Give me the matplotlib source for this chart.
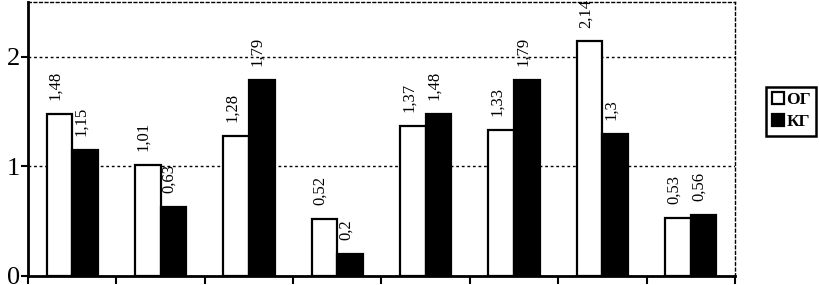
import matplotlib
matplotlib.use("Agg")
import matplotlib.pyplot as plt
import numpy as np

categories = ["1", "2", "3", "4", "5", "6", "7", "8"]
og_values = [1.48, 1.01, 1.28, 0.52, 1.37, 1.33, 2.14, 0.53]
kg_values = [1.15, 0.63, 1.79, 0.20, 1.48, 1.79, 1.30, 0.56]
series_names = ["ОГ", "КГ"]
y_ticks = [0, 1, 2]

plt.rcParams['font.family'] = ['Liberation Serif', 'DejaVu Serif']

fig = plt.figure(figsize=(8.2, 2.85), dpi=100)
ax = fig.add_axes([28/820, 1 - 276/285, (735 - 28)/820, (276 - 2)/285])

x = np.arange(len(categories))
w = 0.29
b1 = ax.bar(x - w/2, og_values, w, color="white", edgecolor="black", linewidth=1.6, label=series_names[0], zorder=3)
b2 = ax.bar(x + w/2, kg_values, w, color="black", edgecolor="black", linewidth=1.6, label=series_names[1], zorder=3)

def fmt(v):
    return f"{v:g}".replace(".", ",")

for bars, vals in ((b1, og_values), (b2, kg_values)):
    for r, v in zip(bars, vals):
        ax.annotate(fmt(v), (r.get_x() + r.get_width()/2, r.get_height()),
                    xytext=(-3, 10), textcoords="offset points",
                    rotation=90, ha="center", va="bottom", fontsize=12,
                    annotation_clip=False, clip_on=False)

ax.set_xlim(-0.5, len(categories) - 0.5)
ax.set_ylim(0, 2.5)
ax.set_yticks(y_ticks)
ax.set_yticklabels([str(t) for t in y_ticks], fontsize=19)
ax.set_xticks(np.arange(len(categories) + 1) - 0.5)
ax.set_xticklabels([])
ax.tick_params(axis="x", direction="out", length=6, width=1.5)
ax.tick_params(axis="y", direction="out", length=5, width=1.5, pad=1)

ax.yaxis.grid(True, linestyle=(0, (2, 2)), color="black", linewidth=1.0, zorder=0)
ax.set_axisbelow(True)
for s in ("left", "bottom"):
    ax.spines[s].set_linewidth(2)
for s in ("top", "right"):
    ax.spines[s].set_linestyle((0, (2, 2)))
    ax.spines[s].set_linewidth(1.0)

leg = fig.legend(handles=[b1, b2], labels=series_names, loc="center",
                 bbox_to_anchor=(0.965, 0.61),
                 prop={"weight": "bold", "size": 12.5},
                 handlelength=0.7, handleheight=0.7, handletextpad=0.15,
                 borderpad=0.3, labelspacing=0.35, fancybox=False,
                 edgecolor="black", framealpha=1)
leg.get_frame().set_linewidth(1.8)

fig.savefig("out.png", dpi=100)
